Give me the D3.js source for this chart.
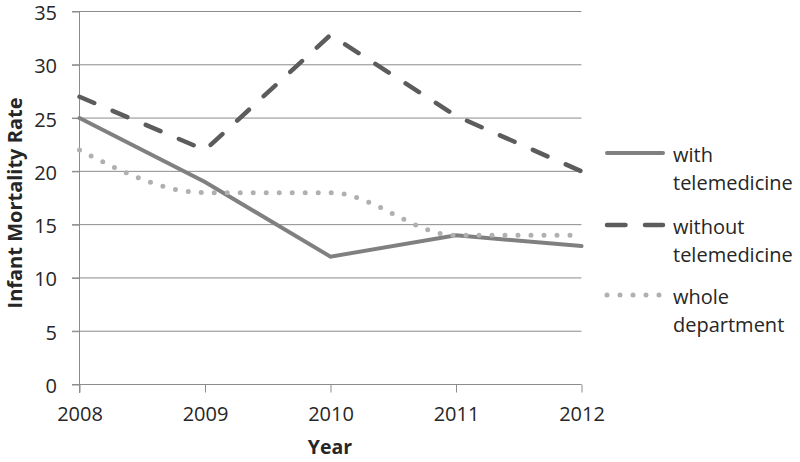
<!DOCTYPE html>
<html><head><meta charset="utf-8">
<script src="https://cdn.jsdelivr.net/npm/d3@7"></script>
<style>body{margin:0;background:#fff}text{font-family:"Open Sans",sans-serif;fill:#262626}</style>
</head><body><svg id="c" width="800" height="462"></svg>
<script>
const years = ["2008","2009","2010","2011","2012"];
const withTele = [25, 19, 12, 14, 13];
const withoutTele = [27, 22, 32.8, 25.2, 20];
const wholeDept = [22, 18, 18, 14, 14];
const yTicks = [0,5,10,15,20,25,30,35];
const seriesNames = [["with","telemedicine"],["without","telemedicine"],["whole","department"]];

const svg = d3.select("#c");
const x = d3.scalePoint().domain(years).range([79.5, 581.5]);
const y = d3.scaleLinear().domain([0,35]).range([384.5, 11.5]);
const grid = "#8c8c8c";

// gridlines
svg.append("g").selectAll("line").data(yTicks.filter(d=>d>0)).join("line")
  .attr("x1",72).attr("x2",581.5).attr("y1",d=>y(d)).attr("y2",d=>y(d))
  .attr("stroke",grid).attr("stroke-width",1);

// y axis
const ya = svg.append("g").attr("transform","translate(79.5,0)")
  .call(d3.axisLeft(y).tickValues(yTicks).tickSize(7.5).tickSizeOuter(0).tickPadding(15));
ya.select(".domain").attr("stroke",grid).attr("d",`M0,${y(35)}V393`);
ya.selectAll(".tick line").attr("stroke",grid);
ya.selectAll(".tick text").style("font-size","20px").attr("fill","#262626").attr("dy","0.4em");

// x axis
const xa = svg.append("g").attr("transform","translate(0,384.5)")
  .call(d3.axisBottom(x).tickSize(8).tickSizeOuter(0).tickPadding(14));
xa.select(".domain").attr("stroke",grid).attr("d","M72,0H581.5");
xa.selectAll(".tick line").attr("stroke",grid);
xa.selectAll(".tick text").style("font-size","20px").attr("fill","#262626");

// axis titles
svg.append("text").attr("x",330).attr("y",454).attr("text-anchor","middle")
  .style("font-size","19.5px").style("font-weight","bold").text("Year");
svg.append("text").attr("transform","translate(21.5,203) rotate(-90)").attr("text-anchor","middle")
  .style("font-size","20px").style("font-weight","bold").text("Infant Mortality Rate");

const styles = [
  {data:withTele, color:"#808080", w:4, dash:null, legDash:null, curve:d3.curveLinear},
  {data:withoutTele, color:"#5c5c5c", w:4.5, dash:"16,20", legDash:"18.5,19.5", curve:d3.curveLinear},
  {data:wholeDept, color:"#b0b0b0", w:5, dash:"0,13", legDash:"0,13", curve:d3.curveMonotoneX}
];
styles.forEach(s=>{
  const line = d3.line().x((d,i)=>x(years[i])).y(d=>y(d)).curve(s.curve);
  const p = svg.append("path").datum(s.data).attr("d",line).attr("fill","none")
    .attr("stroke",s.color).attr("stroke-width",s.w).attr("stroke-linecap","round");
  if(s.dash) p.attr("stroke-dasharray",s.dash);
});

// legend
const legY = [153, 225, 295];
const lg = svg.append("g");
styles.forEach((s,i)=>{
  const l = lg.append("line").attr("x1",607).attr("x2",663).attr("y1",legY[i]).attr("y2",legY[i])
    .attr("stroke",s.color).attr("stroke-width",s.w).attr("stroke-linecap","round");
  if(s.legDash) l.attr("stroke-dasharray", s.legDash);
  const t = lg.append("text").attr("x",673).attr("y",legY[i]+9).style("font-size","20px");
  t.append("tspan").attr("x",673).text(seriesNames[i][0]);
  t.append("tspan").attr("x",673).attr("dy",28).text(seriesNames[i][1]);
});
</script></body></html>
